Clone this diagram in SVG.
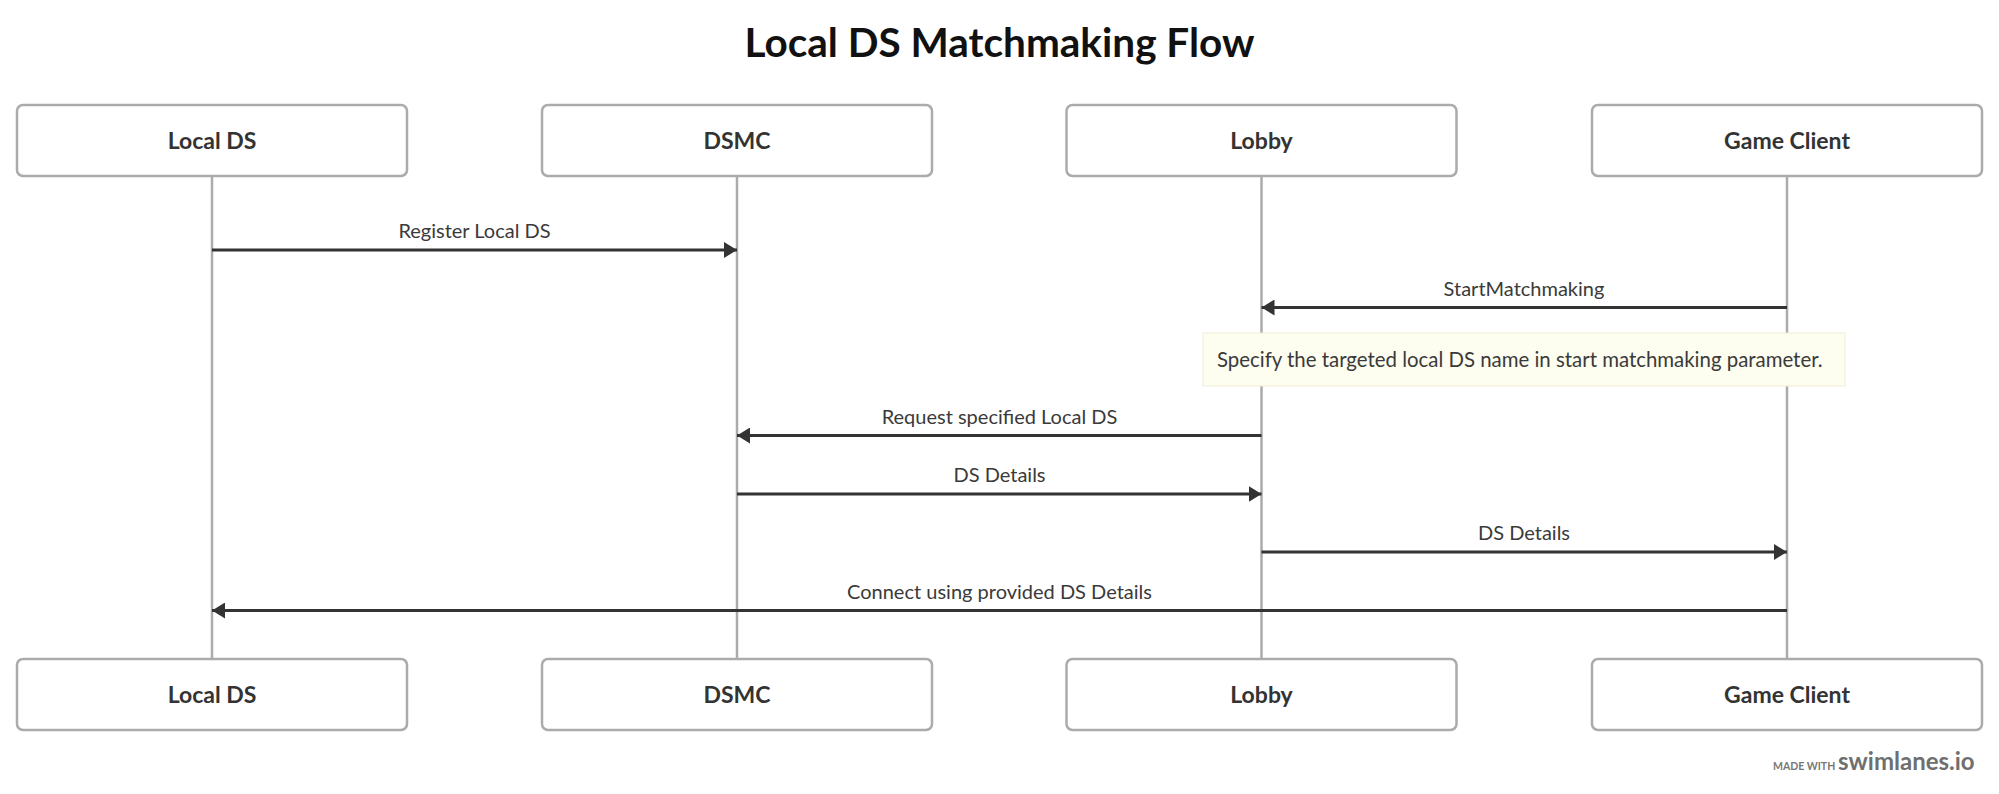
<svg xmlns="http://www.w3.org/2000/svg" width="1999" height="794" viewBox="0 0 1999 794">
  <defs>
    <style>
      .title { font-family: Lato, "Liberation Sans", sans-serif; font-weight: 700; font-size: 40.5px; fill: #111; text-anchor: middle; }
      .box { fill: #fff; stroke: #ababab; stroke-width: 2.5; }
      .lbl { font-family: Lato, "Liberation Sans", sans-serif; font-weight: 700; font-size: 23px; fill: #333; text-anchor: middle; }
      .life { stroke: #ababab; stroke-width: 2.5; fill: none; }
      .msg { stroke: #333; stroke-width: 3; fill: none; }
      .mtxt { font-family: Lato, "Liberation Sans", sans-serif; font-size: 20px; fill: #3a3a3a; text-anchor: middle; }
      .note { fill: #fdfdf0; stroke: #efeed5; stroke-width: 1; }
      .ntxt { font-family: Lato, "Liberation Sans", sans-serif; font-size: 20.4px; fill: #3a3a3a; }
      .foot1 { font-family: Lato, "Liberation Sans", sans-serif; font-weight: 700; font-size: 10.5px; fill: #777; }
      .foot2 { font-family: Lato, "Liberation Sans", sans-serif; font-weight: 700; font-size: 24px; fill: #6f6f6f; }
    </style>
    <marker id="arr" viewBox="0 0 13 16" refX="13" refY="8" markerWidth="13" markerHeight="16" markerUnits="userSpaceOnUse" orient="auto">
      <path d="M0,0 L13,8 L0,16 Z" fill="#333"/>
    </marker>
  </defs>
  <rect width="1999" height="794" fill="#fff"/>
  <text class="title" x="999.5" y="57">Local DS Matchmaking Flow</text>

  <g id="lifelines">
    <line class="life" x1="212" y1="176" x2="212" y2="659"/>
    <line class="life" x1="737" y1="176" x2="737" y2="659"/>
    <line class="life" x1="1261.5" y1="176" x2="1261.5" y2="659"/>
    <line class="life" x1="1787" y1="176" x2="1787" y2="659"/>
  </g>

  <g id="node-localds-top"><rect class="box" x="17" y="105" width="390" height="71" rx="6"/><text class="lbl" x="212" y="149">Local DS</text></g>
  <g id="node-dsmc-top"><rect class="box" x="542" y="105" width="390" height="71" rx="6"/><text class="lbl" x="737" y="149">DSMC</text></g>
  <g id="node-lobby-top"><rect class="box" x="1066.5" y="105" width="390" height="71" rx="6"/><text class="lbl" x="1261.5" y="149">Lobby</text></g>
  <g id="node-gameclient-top"><rect class="box" x="1592" y="105" width="390" height="71" rx="6"/><text class="lbl" x="1787" y="149">Game Client</text></g>

  <g id="node-localds-bottom"><rect class="box" x="17" y="659" width="390" height="71" rx="6"/><text class="lbl" x="212" y="703">Local DS</text></g>
  <g id="node-dsmc-bottom"><rect class="box" x="542" y="659" width="390" height="71" rx="6"/><text class="lbl" x="737" y="703">DSMC</text></g>
  <g id="node-lobby-bottom"><rect class="box" x="1066.5" y="659" width="390" height="71" rx="6"/><text class="lbl" x="1261.5" y="703">Lobby</text></g>
  <g id="node-gameclient-bottom"><rect class="box" x="1592" y="659" width="390" height="71" rx="6"/><text class="lbl" x="1787" y="703">Game Client</text></g>

  <g id="note">
    <rect class="note" x="1203" y="333" width="642" height="53"/>
    <text class="ntxt" x="1217" y="367">Specify the targeted local DS name in start matchmaking parameter.</text>
  </g>

  <g id="connectors">
    <line class="msg" x1="212" y1="250" x2="737" y2="250" marker-end="url(#arr)"/>
    <text class="mtxt" x="474.5" y="238">Register Local DS</text>
    <line class="msg" x1="1787" y1="307.5" x2="1261.5" y2="307.5" marker-end="url(#arr)"/>
    <text class="mtxt" x="1524" y="295.5">StartMatchmaking</text>
    <line class="msg" x1="1261.5" y1="435.5" x2="737" y2="435.5" marker-end="url(#arr)"/>
    <text class="mtxt" x="999.5" y="423.5">Request specified Local DS</text>
    <line class="msg" x1="737" y1="494" x2="1261.5" y2="494" marker-end="url(#arr)"/>
    <text class="mtxt" x="999.5" y="482">DS Details</text>
    <line class="msg" x1="1261.5" y1="552" x2="1787" y2="552" marker-end="url(#arr)"/>
    <text class="mtxt" x="1524" y="540">DS Details</text>
    <line class="msg" x1="1787" y1="610.5" x2="212" y2="610.5" marker-end="url(#arr)"/>
    <text class="mtxt" x="999.5" y="598.5">Connect using provided DS Details</text>
  </g>

  <g id="footer">
    <text class="foot1" x="1773" y="770">MADE WITH</text>
    <text class="foot2" x="1838" y="770">swimlanes.io</text>
  </g>
</svg>
